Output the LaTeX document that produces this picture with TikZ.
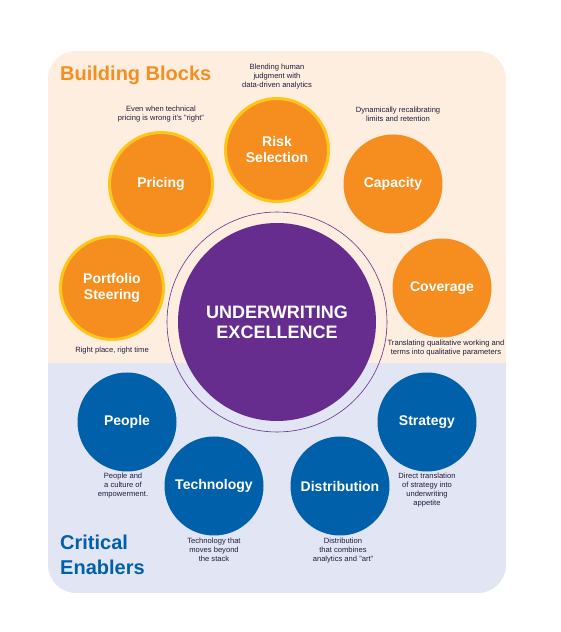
\documentclass[tikz,border=0pt]{standalone}
\usepackage{fontspec}
\setmainfont{Liberation Sans}
\usetikzlibrary{positioning}
\definecolor{peach}{HTML}{FDEEDF}
\definecolor{lavender}{HTML}{E2E5F3}
\definecolor{blockorange}{HTML}{F68E1F}
\definecolor{ringyellow}{HTML}{FFC61A}
\definecolor{corepurple}{HTML}{662D8F}
\definecolor{enablerblue}{HTML}{0060AA}
\definecolor{notetext}{HTML}{221E3F}
\tikzset{
  x=1pt, y=1pt,
  block/.style={circle, fill=blockorange, inner sep=0pt, minimum size=99pt,
    text=white, font=\bfseries\fontsize{14}{16}\selectfont, align=center},
  ringed/.style={block, draw=ringyellow, line width=3pt, minimum size=103pt},
  enabler/.style={block, fill=enablerblue},
  note/.style={inner sep=0pt, align=center, text=notetext,
    font=\fontsize{7.6}{9}\selectfont},
  heading/.style={inner sep=0pt, anchor=base west, align=left,
    font=\bfseries\fontsize{20}{25}\selectfont},
}

\begin{document}
\begin{tikzpicture}
      \useasboundingbox (0,0) rectangle (560,632);
      % panels
      \begin{scope}
        \clip[rounded corners=28pt] (48,39) rectangle (506,581);
        \fill[peach] (48,269) rectangle (506,581);
        \fill[lavender] (48,39) rectangle (506,269);
      \end{scope}

      \node[heading,text=blockorange] (bbtitle) at (60,551) {Building Blocks};
      \node[heading,text=enablerblue] (cetitle) at (60,57) {Critical\\Enablers};

      % core
      \node[circle,draw=corepurple,line width=0.6pt,minimum size=220pt] (ring) at (277,310) {};
      \node[block,fill=corepurple,minimum size=198pt,
            font=\bfseries\fontsize{18}{20}\selectfont] (core) at (277,310) {UNDERWRITING\\EXCELLENCE};

      % building blocks
      \node[ringed] (risk)      at (277,482) {Risk\\Selection};
      \node[ringed] (pricing)   at (161,448) {Pricing};
      \node[block]  (capacity)  at (393,448) {Capacity};
      \node[ringed] (portfolio) at (112,344) {Portfolio\\Steering};
      \node[block]  (coverage)  at (442,344) {Coverage};

      % enablers
      \node[enabler] (people)   at (127,210) {People};
      \node[enabler] (strategy) at (427,210) {Strategy};
      \node[enabler] (tech)     at (214,146) {Technology};
      \node[enabler] (distrib)  at (340,146) {Distribution};

      % notes
      \node[note,above=8pt of risk] (riskNote) {Blending human\\judgment with\\data-driven analytics};
      \node[note,above=9pt of pricing] (pricingNote) {Even when technical\\pricing is wrong it's "right"};
      \node[note,above=13pt of capacity,xshift=5pt] (capacityNote) {Dynamically recalibrating\\limits and retention};
      \node[note,below=6pt of portfolio] (portfolioNote) {Right place, right time};
      \node[note,below=2pt of coverage,xshift=4pt] (coverageNote) {Translating qualitative working and\\terms into qualitative parameters};
      \node[note,below=1.5pt of people,xshift=-4pt] (peopleNote) {People and\\a culture of\\empowerment.};
      \node[note,below=1.5pt of strategy] (strategyNote) {Direct translation\\of strategy into\\underwriting\\appetite};
      \node[note,below=2pt of tech] (techNote) {Technology that\\moves beyond\\the stack};
      \node[note,below=2pt of distrib,xshift=3pt] (distribNote) {Distribution\\that combines\\analytics and "art"};
    \end{tikzpicture}
\end{document}
